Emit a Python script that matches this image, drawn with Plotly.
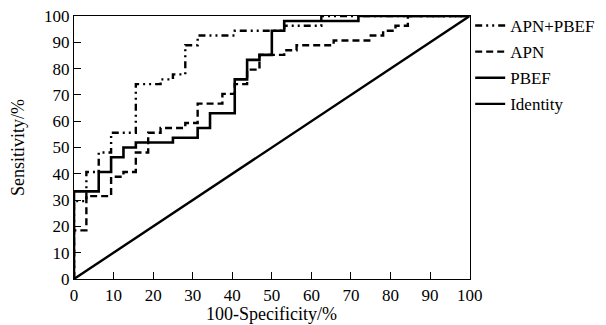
import plotly.graph_objects as go

# ROC step vertices (100-Specificity %, Sensitivity %), drawn with horizontal-then-vertical steps
apn_pbef_fpr = [0, 0, 3.125, 6.25, 9.375, 15.625, 21.875, 25, 28.125, 31.25, 40.625, 53.125, 62.5, 100]
apn_pbef_tpr = [0, 29.6, 40.7, 48.1, 55.6, 74.1, 75.9, 77.8, 88.9, 92.6, 94.4, 96.3, 100, 100]

apn_fpr = [0, 0, 3.125, 9.375, 12.5, 15.625, 18.75, 21.875, 28.125, 31.25, 37.5, 40.625, 43.75,
           46.875, 53.125, 56.25, 65.625, 75, 78.125, 81.25, 84.375, 100]
apn_tpr = [0, 18.5, 31.5, 38.9, 40.7, 48.1, 55.6, 57.4, 59.3, 66.7, 70.4, 74.1, 79.6,
           85.2, 87.0, 88.9, 90.7, 92.6, 94.4, 96.3, 100, 100]

pbef_fpr = [0, 0, 6.25, 9.375, 12.5, 15.625, 25, 31.25, 34.375, 40.625, 43.75, 46.875, 50, 53.125, 71.875, 100]
pbef_tpr = [0, 33.3, 40.7, 46.3, 50.0, 51.9, 53.7, 57.4, 63.0, 75.9, 83.3, 85.2, 94.4, 98.1, 100, 100]

identity_x = [0, 100]
identity_y = [0, 100]

tick_vals = [0, 10, 20, 30, 40, 50, 60, 70, 80, 90, 100]

FONT = "Liberation Serif"

# page body adds an 8px margin, so the figure is sized/offset to compensate
W, H = 598, 317
W_EFF = 590

fig = go.Figure()
fig.add_trace(go.Scatter(x=apn_pbef_fpr, y=apn_pbef_tpr, mode="lines", name="APN+PBEF",
                         line=dict(color="black", width=2.4, shape="hv", dash="7px,4px,2px,4px,2px,4px"),
                         legendgroup="a"))
fig.add_trace(go.Scatter(x=apn_fpr, y=apn_tpr, mode="lines", name="APN",
                         line=dict(color="black", width=2.4, shape="hv", dash="7px,4px"),
                         legendgroup="b"))
fig.add_trace(go.Scatter(x=pbef_fpr, y=pbef_tpr, mode="lines", name="PBEF",
                         line=dict(color="black", width=2.6, shape="hv"),
                         legendgroup="c"))
fig.add_trace(go.Scatter(x=identity_x, y=identity_y, mode="lines", name="Identity",
                         line=dict(color="black", width=2.4),
                         legendgroup="d"))

axis_common = dict(
    range=[0, 100], tickvals=tick_vals, ticks="inside", ticklen=7, tickwidth=1.3,
    tickcolor="black", showline=True, linecolor="black", linewidth=1.3, mirror=True,
    showgrid=False, zeroline=False, tickfont=dict(family=FONT, size=17, color="black"),
    automargin=False, ticklabeloverflow="allow",
)

fig.update_layout(
    width=W, height=H,
    margin=dict(l=66, r=127.5, t=7.5, b=46),
    plot_bgcolor="white", paper_bgcolor="white",
    font=dict(family=FONT, size=17, color="black"),
    xaxis=dict(**axis_common),
    yaxis=dict(**axis_common, title=dict(text="Sensitivity/%", font=dict(family=FONT, size=18), standoff=21)),
    legend=dict(xref="container", yref="container", x=456 / W_EFF, y=1.022, xanchor="left", yanchor="top",
                font=dict(family=FONT, size=17),
                tracegroupgap=1, bgcolor="rgba(0,0,0,0)", itemwidth=30),
    showlegend=True,
    annotations=[dict(text="100-Specificity/%", xref="paper", yref="paper", x=0.5, y=-0.1328,
                      xanchor="center", yanchor="middle", showarrow=False,
                      font=dict(family=FONT, size=18, color="black"))],
)

fig.write_html("out.html")
